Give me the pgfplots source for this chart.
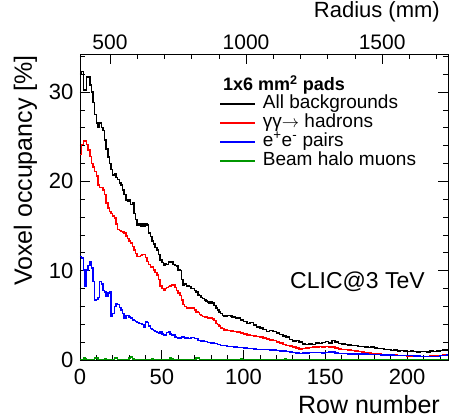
\documentclass[border=0pt]{standalone}
\usepackage{fontspec}
\setmainfont{Liberation Sans}
\usepackage{pgfplots}
\pgfplotsset{compat=1.18}
\definecolor{rootgreen}{RGB}{0,150,0}
\newcommand{\fs}[1]{\fontsize{#1}{#1}\selectfont}
\begin{document}
\begin{tikzpicture}
\begin{axis}[name=ax, scale only axis, width=368pt, height=306pt,
  xmin=0, xmax=225, ymin=0, ymax=34.25,
  /pgf/number format/assume math mode=true,
  tick align=inside, major tick length=10pt, minor tick length=5pt,
  xtick={0,50,100,150,200}, minor xtick={10,20,...,220},
  ytick={0,10,20,30}, minor ytick={2,4,...,34},
  xtick pos=bottom, ytick pos=both,
  tick style={black, line width=0.6pt}, axis line style={line width=0.8pt},
  ticklabel style={font=\fs{22}},
  xticklabel style={yshift=-6pt},
  yticklabel style={xshift=-3pt},
  xlabel={Row number}, ylabel={Voxel occupancy [\%]},
  label style={font=\fs{25}},
  xlabel style={at={(axis description cs:1,0)}, anchor=base east, xshift=-8pt, yshift=-53pt, inner sep=0pt},
  ylabel style={at={(axis description cs:0,1)}, anchor=base east, xshift=-1pt, yshift=48pt, inner sep=0pt},
  legend image code/.code={\draw[#1, line width=1.6pt] (0pt,0pt) -- (35pt,0pt);},
  legend style={at={(axis description cs:0.378,0.866)}, anchor=north west, draw=none, fill=none,
    font=\fs{19}, inner sep=0pt, row sep=2pt, nodes={inner sep=0pt, text height=13pt, text depth=4pt}},
  legend cell align=left,
  const plot, every axis plot/.append style={line width=1.5pt}
]
\addplot[black] coordinates {
(0,32.0)(1,32.3)(2,30.2)(3,30.2)(4,31.7)(5,31.7)(6,30.8)(7,30.0)(8,28.8)(9,27.5)
(10,26.5)(11,26.0)(12,26.5)(13,26.0)(14,25.7)(15,24.6)(16,23.6)(17,22.7)(18,22.0)(19,21.3)
(20,20.7)(21,20.8)(22,20.4)(23,20.2)(24,19.8)(25,19.6)(26,19.0)(27,18.5)(28,17.9)(29,17.8)
(30,17.9)(31,17.4)(32,17.6)(33,16.4)(34,15.7)(35,15.1)(36,15.3)(37,15.0)(38,15.2)(39,15.0)
(40,15.2)(41,15.1)(42,14.2)(43,13.8)(44,13.3)(45,13.0)(46,12.6)(47,12.3)(48,11.8)(49,11.2)
(50,10.9)(51,10.6)(52,10.8)(53,10.7)(54,11.0)(55,10.9)(56,11.0)(57,10.7)(58,10.6)(59,10.5)
(60,10.1)(61,10.0)(62,9.0)(63,8.4)(64,8.5)(65,8.3)(66,8.3)(67,8.2)(68,8.0)(69,8.0)
(70,7.8)(71,7.6)(72,7.3)(73,7.2)(74,7.0)(75,6.9)(76,6.7)(77,6.6)(78,6.5)(79,6.4)
(80,6.5)(81,6.4)(82,6.1)(83,5.8)(84,5.6)(85,5.4)(86,5.2)(87,5.0)(88,4.85)(89,4.9)
(90,5.0)(91,5.0)(92,4.9)(93,4.8)(94,4.8)(95,4.7)
(96,4.7)(98,4.5)(100,4.3)(102,4.1)(104,4.2)(106,3.9)(108,3.7)(110,3.6)(112,3.4)(114,3.2)
(116,3.3)(118,3.2)(120,3.0)(122,2.85)(124,2.7)(126,2.6)(128,2.3)(130,2.15)(132,2.2)(134,2.0)
(136,1.8)(138,1.75)(140,1.8)(142,1.75)(144,1.9)(146,1.85)(148,1.95)(150,2.05)(152,1.9)(154,2.2)
(156,2.0)(158,1.85)(160,1.8)(162,1.75)(164,1.7)(166,1.6)(168,1.65)(170,1.5)(172,1.5)(174,1.45)
(176,1.4)(178,1.45)(180,1.35)(182,1.3)(184,1.3)(186,1.2)(188,1.15)(190,1.05)(192,1.1)(194,1.0)
(196,1.05)(198,1.0)(200,0.95)(202,1.0)(204,0.95)(206,0.9)(208,0.93)(210,0.95)(212,0.9)(214,1.0)
(216,0.95)(218,1.0)(220,1.05)(222,1.1)(224,1.1)(225,1.1)};
\addlegendentry{\hspace*{7pt}All backgrounds}
\addplot[red] coordinates {
(0,23.0)(1,24.1)(2,24.5)(3,24.5)(4,24.1)(5,23.5)(6,22.8)(7,22.0)(8,21.6)(9,21.1)
(10,20.6)(11,19.6)(12,19.3)(13,19.3)(14,19.0)(15,18.5)(16,17.6)(17,17.0)(18,16.6)(19,16.4)
(20,16.1)(21,15.9)(22,15.2)(23,14.6)(24,14.5)(25,14.4)(26,14.3)(27,14.2)(28,13.9)(29,13.6)
(30,13.3)(31,13.1)(32,12.7)(33,12.3)(34,11.9)(35,11.6)(36,11.6)(37,11.7)(38,11.8)(39,11.8)
(40,11.5)(41,11.0)(42,10.7)(43,10.4)(44,10.4)(45,10.1)(46,9.8)(47,9.5)(48,9.0)(49,8.3)
(50,8.0)(51,7.8)(52,8.0)(53,8.1)(54,8.2)(55,8.3)(56,8.4)(57,8.4)(58,8.1)(59,7.8)
(60,7.5)(61,7.2)(62,6.7)(63,6.2)(64,6.0)(65,5.8)(66,5.8)(67,5.9)(68,5.8)(69,5.8)
(70,5.6)(71,5.4)(72,5.3)(73,5.1)(74,5.0)(75,4.85)(76,4.8)(77,4.8)(78,4.7)(79,4.75)
(80,4.7)(81,4.6)(82,4.4)(83,4.1)(84,4.0)(85,3.8)(86,3.6)(87,3.5)
(88,3.36)(90,3.3)(92,3.25)(94,3.2)(96,3.15)(98,3.0)(100,2.9)(102,2.8)(104,2.75)(106,2.7)
(108,2.65)(110,2.6)(112,2.45)(114,2.35)(116,2.25)(118,2.2)(120,2.0)(122,1.9)(124,1.75)(126,1.65)
(128,1.55)(130,1.45)(132,1.35)(134,1.25)(136,1.3)(138,1.35)(140,1.4)(142,1.45)(144,1.45)(146,1.5)
(148,1.45)(150,1.5)(152,1.45)(154,1.45)(156,1.35)(158,1.25)(160,1.2)(162,1.15)(164,1.1)(166,1.05)
(168,1.0)(170,0.93)(172,0.9)(174,0.85)(176,0.8)(178,0.75)(180,0.7)(182,0.65)(184,0.63)(186,0.6)
(188,0.58)(190,0.56)(192,0.55)(194,0.52)(196,0.5)(198,0.48)(200,0.47)(202,0.45)(204,0.42)(206,0.4)
(208,0.37)(210,0.4)(212,0.42)(214,0.45)(216,0.5)(218,0.5)(220,0.52)(222,0.55)(224,0.56)(225,0.56)};
\addlegendentry{\hspace*{7pt}γγ$\rightarrow$ hadrons}
\addplot[blue] coordinates {
(0,11.6)(1,11.4)(2,10.1)(3,8.2)(4,10.1)(5,10.6)(6,11.0)(7,10.3)(8,8.8)(9,6.7)
(10,6.8)(11,7.0)(12,8.8)(13,8.5)(14,7.8)(15,7.6)(16,7.1)(17,7.5)(18,7.6)(19,4.85)
(20,5.2)(21,6.0)(22,6.3)(23,6.2)(24,5.9)(25,5.6)(26,5.2)(27,4.7)(28,5.0)(29,5.0)
(30,4.8)(31,4.7)(32,4.5)(33,4.4)(34,4.3)(35,4.2)(36,4.1)(37,4.1)(38,4.0)(39,3.7)
(40,4.3)(41,4.2)(42,3.8)(43,3.55)(44,3.4)(45,3.3)(46,3.2)(47,3.1)(48,3.0)(49,3.2)
(50,2.9)(51,2.8)(52,2.8)(53,3.1)(54,3.2)(55,2.9)(56,2.8)(57,2.8)(58,2.6)(59,2.5)
(60,2.45)(62,2.55)(64,2.45)(66,2.4)(68,2.5)(70,2.4)(72,2.2)(74,2.15)(76,2.05)(78,1.95)
(80,1.9)(82,1.85)(84,1.75)(86,1.65)(88,1.6)(90,1.5)(92,1.5)(94,1.45)(96,1.4)(98,1.4)
(100,1.35)(102,1.3)(104,1.3)(106,1.25)(108,1.2)(110,1.2)(112,1.15)(114,1.15)(116,1.1)(118,1.1)
(120,1.05)(122,1.0)(124,1.0)(126,0.95)(128,0.9)(130,0.85)(132,0.8)(134,0.75)(136,0.78)(138,0.8)
(140,0.85)(142,0.83)(144,0.82)(146,0.85)(148,0.8)(150,0.85)(152,0.9)(154,0.88)(156,0.8)(158,0.75)
(160,0.72)(164,0.7)(168,0.68)(172,0.66)(176,0.63)(180,0.6)(184,0.57)(188,0.55)(192,0.52)(196,0.5)
(200,0.48)(204,0.45)(208,0.4)(212,0.37)(216,0.42)(220,0.5)(224,0.56)(225,0.56)};
\addlegendentry{\hspace*{7pt}e\textsuperscript{+}e\textsuperscript{-} pairs}
\addplot[rootgreen] coordinates {
(0,0.05)(2,0.3)(3,0.1)(4,0.05)(9,0.2)(10,0.3)(11,0.05)(15,0.1)(16,0.05)(21,0.25)
(22,0.3)(23,0.05)(30,0.2)(31,0.35)(32,0.1)(33,0.05)(44,0.1)(45,0.05)(55,0.2)(56,0.1)
(57,0.05)(71,0.2)(72,0.25)(73,0.05)(98,0.15)(99,0.05)(125,0.15)(126,0.05)(225,0.05)};
\addlegendentry{\hspace*{7pt}Beam halo muons}
\end{axis}
\begin{axis}[at={(ax.south west)}, anchor=south west, scale only axis, width=368pt, height=306pt,
  xmin=390, xmax=1742, ymin=0, ymax=1,
  axis x line*=top, axis y line=none,
  /pgf/number format/assume math mode=true, /pgf/number format/1000 sep={},
  tick align=inside, major tick length=10pt, minor tick length=5pt,
  xtick={500,1000,1500}, minor xtick={600,700,800,900,1100,1200,1300,1400,1600,1700},
  tick style={black, line width=0.6pt}, axis line style={line width=0.8pt},
  xticklabel style={font=\fs{21}, yshift=1pt},
  xlabel={Radius (mm)},
  xlabel style={font=\fs{22}, at={(axis description cs:1,1)}, anchor=base east, xshift=-8pt, yshift=36pt, inner sep=0pt}
]
\end{axis}
\node[anchor=west, font=\bfseries\fs{18}, inner sep=0pt] at ([xshift=143pt,yshift=-31pt]ax.north west) {1x6 mm\textsuperscript{2} pads};
\node[anchor=base east, font=\fs{23}, inner sep=0pt] at ([xshift=-23pt,yshift=72pt]ax.south east) {CLIC@3 TeV};
\pgfresetboundingbox
\path[use as bounding box] ([xshift=-80pt,yshift=-58pt]ax.south west) rectangle ([xshift=1pt,yshift=54pt]ax.north east);
\end{tikzpicture}
\end{document}
